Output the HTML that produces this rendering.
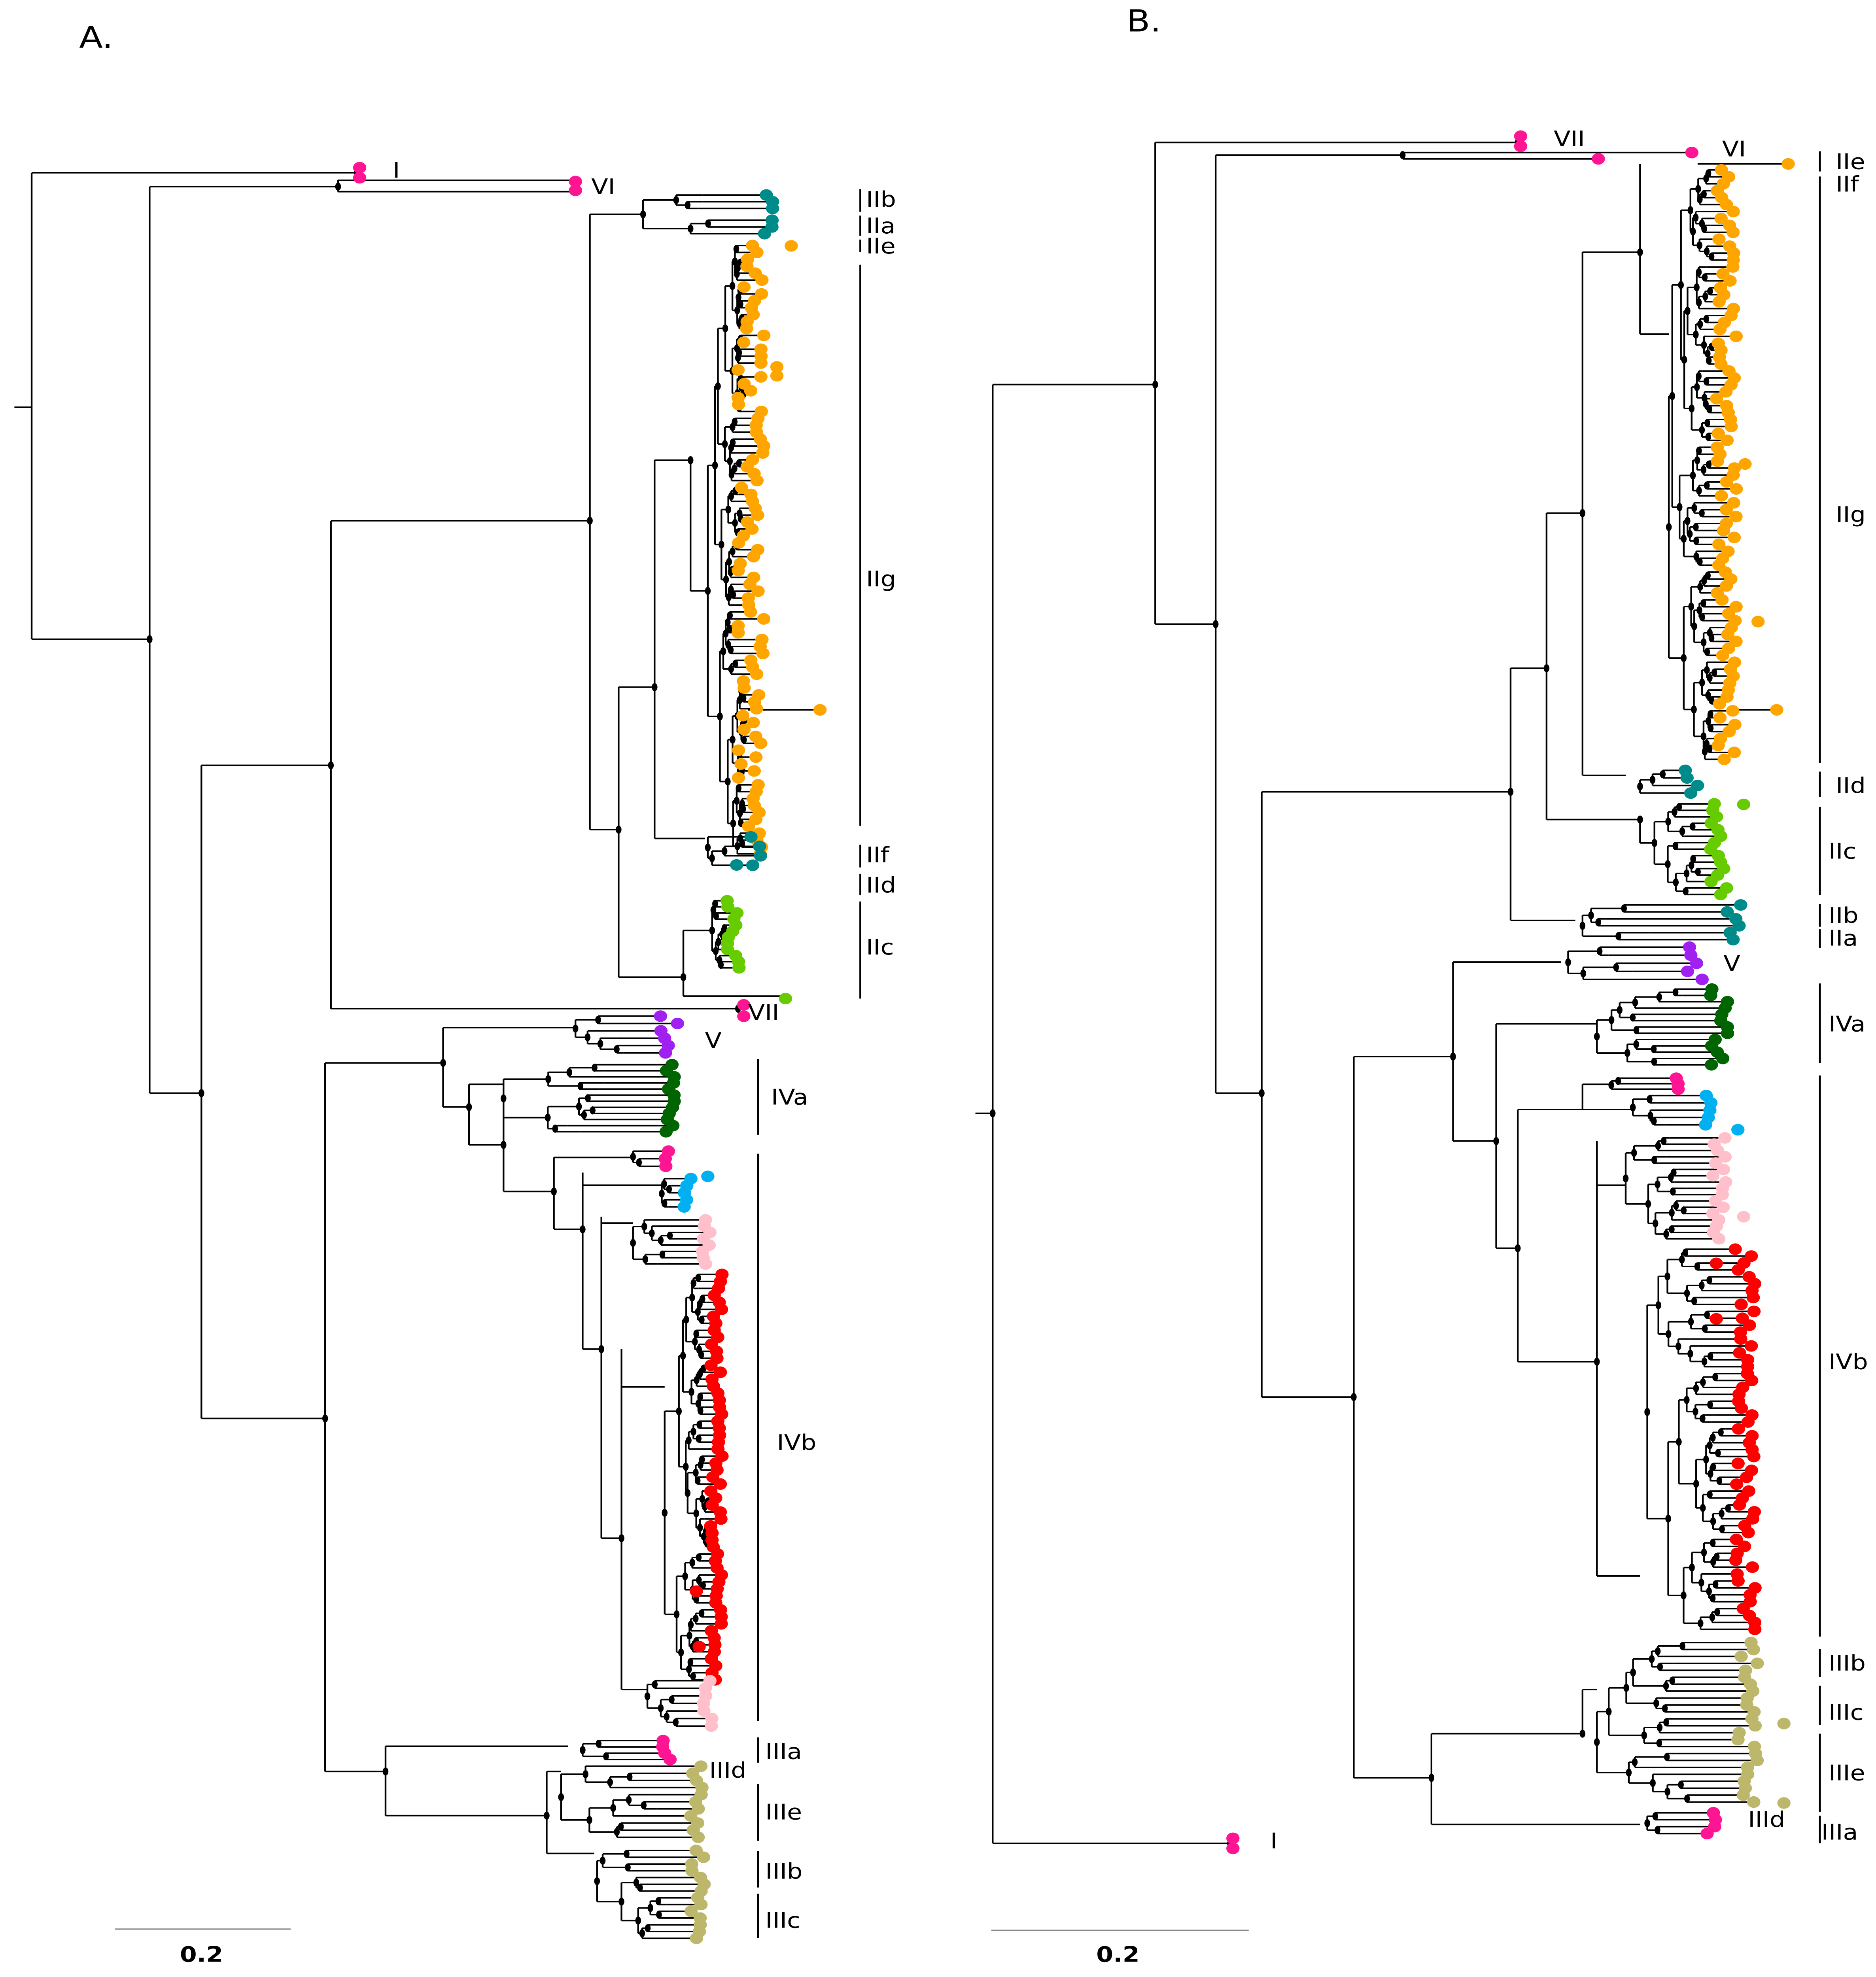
<!DOCTYPE html>
<html><head><meta charset="utf-8"><style>
html,body{margin:0;padding:0;background:#fff;overflow:hidden;width:100vw;height:100vh;}
svg{display:block;position:fixed;left:0;top:0;width:100vw;height:100vh;}
text{font-family:"DejaVu Sans","Liberation Sans",sans-serif;fill:#000;}
</style></head><body>
<svg id="s" xmlns="http://www.w3.org/2000/svg" viewBox="0 0 1304 1568" preserveAspectRatio="none">
<g id="lines" stroke="#000" stroke-width="1.2" fill="none"></g>
<g id="nodes" fill="#000"></g>
<g id="dots"></g>
<g font-size="17">
<text x="55" y="38" font-size="24">A.</text>
<text x="783" y="25" font-size="24">B.</text>
<text x="273" y="141">I</text><text x="411" y="154">VI</text>
<text x="602" y="164">IIb</text><text x="602" y="185">IIa</text><text x="602" y="201">IIe</text>
<text x="602" y="465">IIg</text><text x="602" y="684">IIf</text><text x="602" y="708">IId</text>
<text x="602" y="757">IIc</text><text x="520" y="809">VII</text><text x="490" y="831">V</text>
<text x="536" y="876">IVa</text><text x="540" y="1150">IVb</text>
<text x="532" y="1395">IIIa</text><text x="493" y="1410">IIId</text><text x="532" y="1443">IIIe</text>
<text x="532" y="1490">IIIb</text><text x="532" y="1529">IIIc</text>
<text x="125" y="1556" font-weight="bold">0.2</text>
<text x="1080" y="116">VII</text><text x="1197" y="124">VI</text>
<text x="1276" y="134">IIe</text><text x="1276" y="152">IIf</text><text x="1276" y="414">IIg</text>
<text x="1276" y="629">IId</text><text x="1271" y="681">IIc</text><text x="1271" y="732">IIb</text>
<text x="1271" y="750">IIa</text><text x="1198" y="770">V</text><text x="1271" y="818">IVa</text>
<text x="1271" y="1086">IVb</text><text x="1271" y="1325">IIIb</text><text x="1271" y="1364">IIIc</text>
<text x="1271" y="1412">IIIe</text><text x="1215" y="1449">IIId</text><text x="1266" y="1459">IIIa</text>
<text x="883" y="1466">I</text>
<text x="762" y="1556" font-weight="bold">0.2</text>
</g>
</svg>
<script>
var L=document.getElementById('lines'),N=document.getElementById('nodes'),D=document.getElementById('dots');
var ns='http://www.w3.org/2000/svg';
function ln(x1,y1,x2,y2,w,c){var e=document.createElementNS(ns,'line');e.setAttribute('x1',x1);e.setAttribute('y1',y1);e.setAttribute('x2',x2);e.setAttribute('y2',y2);if(w)e.setAttribute('stroke-width',w);if(c)e.setAttribute('stroke',c);L.appendChild(e);}
function nd(x,y){var e=document.createElementNS(ns,'ellipse');e.setAttribute('cx',x);e.setAttribute('cy',y);e.setAttribute('rx',2);e.setAttribute('ry',3.2);N.appendChild(e);}
function dot(x,y,c){var e=document.createElementNS(ns,'circle');e.setAttribute('cx',x);e.setAttribute('cy',y);e.setAttribute('r',4.6);e.setAttribute('fill',c);D.appendChild(e);}
var seed=7;function R(){seed=(seed*16807)%2147483647;return (seed-1)/2147483646;}
function sub(x,ya,yb,xe,col,step,jit){
  var n=Math.max(1,Math.round((yb-ya)/step));
  if(n<=1){var y=(ya+yb)/2,xd=xe+(R()-0.5)*jit;ln(x,y,xd,y);dot(xd,y,col);return y;}
  var k=Math.max(1,Math.min(n-1,Math.round(n*(0.25+R()*0.5))));
  var ym=ya+(yb-ya)*k/n;
  var x1=x+(xe-x)*(0.05+R()*0.25),x2=x+(xe-x)*(0.05+R()*0.25);
  var c1=sub(x1,ya,ym,xe,col,step,jit),c2=sub(x2,ym,yb,xe,col,step,jit);
  ln(x,c1,x,c2);ln(x,c1,x1,c1);ln(x,c2,x2,c2);nd(x,(c1+c2)/2);
  return (c1+c2)/2;
}
function cl(x,ya,yb,xe,col,step,jit){return sub(x,ya,yb,xe,col,step||6,jit||10);}
var O='#FFA500',T='#008B8B',G='#66CC00',P='#FF1493',V='#A020F0',DG='#006400',B='#00B0F0',LP='#FFC0CB',RD='#FF0000',TN='#BDB76B';
ln(10,323,22,323);ln(22,137,22,507);ln(22,137,248,137);ln(22,507,104,507);nd(104,507);
ln(248,133,248,141);dot(250,133,P);dot(250,141,P);nd(248,137);
ln(104,148,104,867);ln(104,148,235,148);nd(235,148);ln(235,143,235,152);ln(235,143,397,143);ln(235,152,397,152);dot(400,144,P);dot(400,151,P);
ln(104,867,140,867);nd(140,867);ln(140,607,140,1125);
ln(140,607,230,607);nd(230,607);ln(230,413,230,800);ln(230,800,513,800);nd(513,800);dot(517,797,P);dot(517,806,P);
ln(230,413,410,413);nd(410,413);ln(410,170,410,658);
ln(410,170,447,170);nd(447,170);
var a1=cl(470,152,168,535,T,5,8);var a2=cl(480,172,188,535,T,6,8);ln(447,a1,447,a2);ln(447,a1,470,a1);ln(447,a2,480,a2);
ln(410,658,430,658);nd(430,658);ln(430,545,430,775);ln(430,545,455,545);nd(455,545);
ln(455,365,455,665);ln(455,365,480,365);nd(480,365);
var o1=cl(492,192,680,522,O,5.5,18);ln(480,365,480,o1);ln(480,o1,492,o1);
ln(455,665,490,665);var t1=cl(492,660,690,525,T,7,8);
dot(550,195,O);dot(540,291,O);dot(540,298,O);dot(570,563,O);ln(520,563,570,563);dot(512,686,T);
ln(430,775,475,775);nd(475,775);var g1=cl(495,712,770,510,G,5,10);ln(475,775,475,g1);ln(475,g1,495,g1);
ln(475,790,545,790);dot(546,792,G);ln(475,775,475,790);
ln(140,1125,226,1125);nd(226,1125);ln(226,843,226,1405);ln(226,843,308,843);nd(308,843);ln(308,815,308,878);
ln(308,815,400,815);cl(400,803,838,465,V,6,12);ln(308,878,326,878);nd(326,878);ln(326,860,326,908);
cl(350,842,900,465,DG,5,10);ln(326,860,350,860);
ln(326,908,350,908);nd(350,908);ln(350,885,350,945);ln(350,945,385,945);nd(385,945);ln(385,918,385,975);
cl(440,910,928,462,P,6,6);ln(385,918,440,918);
ln(385,975,405,975);nd(405,975);ln(405,930,405,1070);
cl(460,932,960,478,B,6,6);ln(405,940,460,940);dot(492,933,B);
ln(405,1070,418,1070);nd(418,1070);ln(418,965,418,1220);
cl(440,965,1005,492,LP,5,8);ln(418,970,440,970);
ln(418,1220,432,1220);nd(432,1220);ln(432,1070,432,1340);
cl(462,1008,1335,498,RD,5.5,8);ln(432,1100,462,1100);
cl(450,1330,1372,493,LP,6,8);ln(432,1340,450,1340);
dot(486,1306,RD);dot(484,1262,RD);
ln(226,1405,268,1405);nd(268,1405);ln(268,1385,268,1440);
ln(268,1385,395,1385);cl(405,1378,1398,462,P,5,8);
ln(268,1440,380,1440);nd(380,1440);ln(380,1405,380,1470);
cl(390,1398,1460,485,TN,5.5,10);ln(380,1405,390,1405);
ln(380,1470,413,1470);cl(415,1465,1540,485,TN,5.5,10);
function bar(x,a,b){ln(x,a,x,b,1.3);}
bar(598,150,168);bar(598,171,187);bar(598,190,200);bar(598,210,655);bar(598,670,688);bar(598,693,710);bar(598,715,792);
bar(527,840,900);bar(527,915,1365);bar(527,1378,1398);bar(527,1415,1460);bar(527,1468,1497);bar(527,1502,1537);
ln(80,1530,202,1530,1,'#888');
ln(678,883,690,883);nd(690,883);ln(690,305,690,1462);ln(690,1462,855,1462);nd(855,1462);dot(857,1458,P);dot(857,1466,P);
ln(690,305,803,305);nd(803,305);ln(803,113,803,495);ln(803,113,1055,113);nd(1055,113);dot(1057,108,P);dot(1057,116,P);
ln(803,495,845,495);nd(845,495);ln(845,123,845,867);ln(845,123,975,123);nd(975,123);ln(975,121,975,126);ln(975,121,1175,121);ln(975,126,1110,126);dot(1111,126,P);dot(1176,121,P);
ln(845,867,877,867);nd(877,867);ln(877,628,877,1108);
ln(877,628,1050,628);nd(1050,628);ln(1050,530,1050,730);
ln(1050,530,1075,530);nd(1075,530);ln(1075,407,1075,650);
ln(1075,407,1100,407);nd(1100,407);ln(1100,200,1100,615);
ln(1100,200,1140,200);nd(1140,200);ln(1140,130,1140,265);
cl(1160,132,605,1200,O,5.5,14);ln(1140,265,1160,265);
dot(1243,130,O);ln(1180,130,1243,130);dot(1235,563,O);ln(1200,563,1235,563);dot(1222,493,O);dot(1213,368,O);
ln(1100,615,1130,615);cl(1140,608,632,1175,T,6,16);
ln(1075,650,1140,650);nd(1140,650);var gb=cl(1150,635,712,1195,G,5,12);ln(1140,650,1140,gb);ln(1140,gb,1150,gb);dot(1212,638,G);
ln(1050,730,1095,730);cl(1100,715,748,1205,T,6,12);
ln(877,1108,941,1108);nd(941,1108);ln(941,838,941,1410);
ln(941,838,1010,838);nd(1010,838);ln(1010,763,1010,905);
ln(1010,763,1085,763);cl(1090,748,780,1178,V,6,12);
ln(1010,905,1040,905);nd(1040,905);ln(1040,812,1040,990);
ln(1040,812,1110,812);cl(1110,782,847,1195,DG,5,12);
ln(1040,990,1055,990);nd(1055,990);ln(1055,880,1055,1080);
cl(1120,853,866,1168,P,5,6);ln(1055,880,1100,880);ln(1100,860,1100,880);ln(1100,860,1120,860);
cl(1135,866,895,1188,B,6,8);ln(1100,880,1135,880);dot(1208,896,B);
ln(1055,1080,1110,1080);nd(1110,1080);ln(1110,905,1110,1250);
cl(1130,900,985,1195,LP,5,12);ln(1110,940,1130,940);dot(1212,965,LP);
ln(1110,1250,1140,1250);cl(1145,988,1295,1213,RD,5.5,14);dot(1193,1002,RD);dot(1193,1046,RD);
ln(941,1410,995,1410);nd(995,1410);ln(995,1375,995,1447);
ln(995,1375,1100,1375);nd(1100,1375);cl(1110,1300,1432,1215,TN,5.5,14);ln(1100,1340,1100,1375);ln(1100,1340,1110,1340);dot(1240,1367,TN);dot(1240,1430,TN);
ln(995,1447,1140,1447);cl(1145,1435,1457,1188,P,6,14);
bar(1265,120,136);bar(1265,140,605);bar(1265,612,632);bar(1265,640,710);bar(1265,717,735);bar(1265,737,752);
bar(1265,780,843);bar(1265,853,1298);bar(1265,1308,1330);bar(1265,1337,1368);bar(1265,1375,1437);bar(1265,1440,1462);
ln(689,1531,868,1531,1,'#888');
</script>
</body></html>
